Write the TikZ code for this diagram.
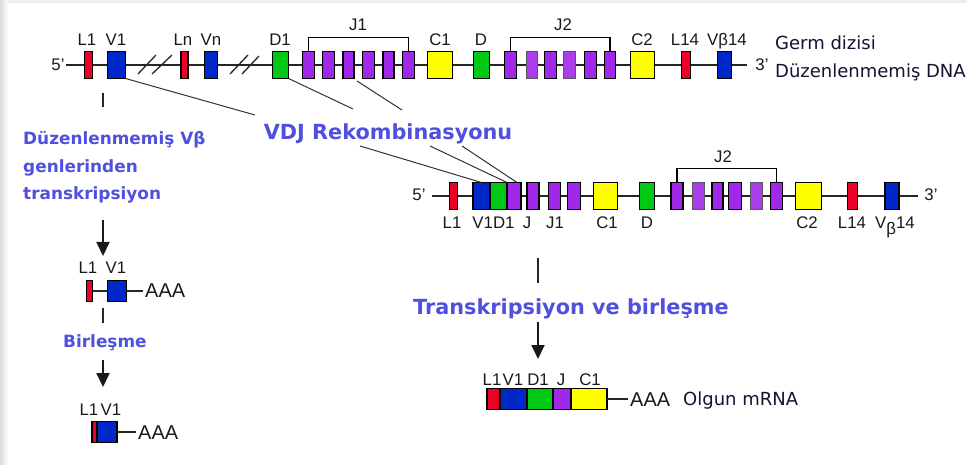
\documentclass[tikz,border=0pt]{standalone}
\usepackage{fontspec}
\setmainfont{Liberation Sans}
\newfontfamily\dvs{DejaVu Sans}
\usetikzlibrary{arrows.meta}

\definecolor{gred}{RGB}{235,0,40}
\definecolor{gblue}{RGB}{0,40,200}
\definecolor{ggreen}{RGB}{0,200,20}
\definecolor{gpurple}{RGB}{160,40,235}
\definecolor{gpurplelt}{RGB}{170,62,236}
\definecolor{gyellow}{RGB}{255,255,0}
\definecolor{stepblue}{RGB}{80,80,222}
\definecolor{navytext}{RGB}{20,20,50}

\begin{document}
\begin{tikzpicture}[x=1pt,y=-1pt,
  seg/.style={draw=black, line width=1.1pt, inner sep=0pt, outer sep=0pt, minimum height=27pt},
  segsm/.style={seg, minimum height=21pt},
  ltseg/.style={seg, draw=black!65, line width=0.8pt, fill=gpurplelt},
  dna/.style={line width=1.3pt, black!85},
  conn/.style={line width=1pt, black!80},
  tick/.style={line width=1.8pt, black!85},
  arr/.style={line width=1.8pt, black!90, -{Triangle[width=13pt,length=14pt]}},
  glab/.style={font=\fontsize{16.8}{17}\selectfont, anchor=base, inner sep=0pt, text=black!90},
  aaa/.style={font=\fontsize{20}{20}\selectfont, anchor=base west, inner sep=0pt, text=black!90},
  steptext/.style={font=\dvs\bfseries\fontsize{20.8}{22}\selectfont, text=stepblue, inner sep=0pt},
  sidetext/.style={font=\dvs\bfseries\fontsize{16.9}{18}\selectfont, text=stepblue, inner sep=0pt, anchor=base west},
  note/.style={font=\dvs\fontsize{18}{20}\selectfont, text=navytext, inner sep=0pt, anchor=base west}
]
% page frame
\useasboundingbox (0,0) rectangle (967,465);
\fill[white] (0,0) rectangle (967,465);
\shade[left color=black!14, right color=white] (0,0) rectangle (8,465);
\fill[black!7] (8,0) rectangle (967,3);

% ---------------- germline DNA ----------------
\node[glab] (g5) at (58,70.5) {5'};
\node[glab] (g3) at (762,70.5) {3'};
\coordinate (gs) at (66,65);
\coordinate (ge) at (747,65);
\draw[dna] (gs) -- (ge);
% breaks in the line
\draw[dna] (138,74) -- (156,55);
\draw[dna] (152,74) -- (172,55);
\draw[dna] (230,74) -- (248,55);
\draw[dna] (242,74) -- (259,56);

\node[seg, fill=gred,    minimum width=8pt]  (l1)  at (88.5,65) {};
\node[seg, fill=gblue,   minimum width=18pt] (v1)  at (116.5,65) {};
\node[seg, fill=gred,    minimum width=7pt]  (ln)  at (184.5,65) {};
\node[seg, fill=gblue,   minimum width=13pt] (vn)  at (211,65) {};
\node[seg, fill=ggreen,  minimum width=16pt] (d1)  at (280.5,65) {};
\node[seg, fill=gpurple, minimum width=12pt] (ja)  at (308.5,65) {};
\node[seg, fill=gpurple, minimum width=12pt] (jb)  at (328.5,65) {};
\node[seg, fill=gpurple, minimum width=11pt] (jc)  at (348.5,65) {};
\node[seg, fill=gpurple, minimum width=12pt] (jd)  at (368.5,65) {};
\node[seg, fill=gpurple, minimum width=11pt] (je)  at (388.5,65) {};
\node[seg, fill=gpurple, minimum width=12pt] (jf)  at (408.5,65) {};
\node[seg, fill=gyellow, minimum width=25pt] (c1)  at (440,65) {};
\node[seg, fill=ggreen,  minimum width=16pt] (dd)  at (481.5,65) {};
\node[seg, fill=gpurple, minimum width=12pt] (ka)  at (510.5,65) {};
\node[ltseg,             minimum width=11pt] (kb)  at (531.5,65) {};
\node[seg, fill=gpurple, minimum width=12pt] (kc)  at (550.5,65) {};
\node[ltseg,             minimum width=12pt] (kd)  at (569.5,65) {};
\node[seg, fill=gpurple, minimum width=12pt] (ke)  at (590.5,65) {};
\node[seg, fill=gpurple, minimum width=11pt] (kf)  at (610,65) {};
\node[seg, fill=gyellow, minimum width=24pt] (c2)  at (642.5,65) {};
\node[seg, fill=gred,    minimum width=9pt]  (l14) at (686,65) {};
\node[seg, fill=gblue,   minimum width=14pt] (vb14) at (724.5,65) {};

\node[glab] (tl1) at (87,45.5) {L1};
\node[glab] (tv1) at (116,45.5) {V1};
\node[glab] (tln) at (183,45.5) {Ln};
\node[glab] (tvn) at (211,45.5) {Vn};
\node[glab] (td1) at (280,45.5) {D1};
\node[glab] (tc1) at (440,45.5) {C1};
\node[glab] (tdd) at (481,45.5) {D};
\node[glab] (tc2) at (642,45.5) {C2};
\node[glab] (tl14) at (685,45.5) {L14};
\node[glab] (tvb14) at (727,45.5) {Vβ14};
\node[glab] (tj1) at (358,31) {J1};
\node[glab] (tj2) at (563,31) {J2};
\draw[line width=1.1pt] (ja.north) -- ++(0,-14) -| (jf.north);
\draw[line width=1.1pt] (ka.north) -- ++(0,-14) -| (kf.north);

\node[note] (germ) at (775,50) {Germ dizisi};
\node[note] (unre) at (775,78) {Düzenlenmemiş DNA};

% ---------------- recombination ----------------
\node[steptext, anchor=base] (vdj) at (388,140) {VDJ Rekombinasyonu};
\coordinate (ra) at (255,115);
\coordinate (rb) at (353,109);
\coordinate (rcs) at (357,81);
\coordinate (rc) at (402,110);
\coordinate (sa) at (360,146);
\coordinate (sb) at (430,146);
\coordinate (sc) at (462,146);

% ---------------- rearranged DNA ----------------
\node[glab] (m5) at (419,201) {5'};
\node[glab] (m3) at (931,201) {3'};
\coordinate (ms) at (432,196);
\coordinate (me) at (918,196);
\draw[dna] (ms) -- (me);

\node[seg, fill=gred,    minimum width=8pt]  (ml1)  at (453.5,196) {};
\node[seg, fill=gblue,   minimum width=17pt] (mv1)  at (481.5,196) {};
\node[seg, fill=ggreen,  minimum width=17pt] (md1)  at (498.5,196) {};
\node[seg, fill=gpurple, minimum width=14pt] (mj)   at (514,196) {};
\node[seg, fill=gpurple, minimum width=12pt] (mja)  at (533,196) {};
\node[seg, fill=gpurple, minimum width=12pt] (mjb)  at (554.5,196) {};
\node[seg, fill=gpurple, minimum width=13pt] (mjc)  at (574,196) {};
\node[seg, fill=gyellow, minimum width=24pt] (mc1)  at (605.5,196) {};
\node[seg, fill=ggreen,  minimum width=15pt] (mdd)  at (647,196) {};
\node[seg, fill=gpurple, minimum width=12pt] (mka)  at (677,196) {};
\node[ltseg,             minimum width=12pt] (mkb)  at (698.5,196) {};
\node[seg, fill=gpurple, minimum width=11pt] (mkc)  at (717.5,196) {};
\node[seg, fill=gpurple, minimum width=13pt] (mkd)  at (735,196) {};
\node[ltseg,             minimum width=12pt] (mke)  at (756.5,196) {};
\node[seg, fill=gpurple, minimum width=12pt] (mkf)  at (776.5,196) {};
\node[seg, fill=gyellow, minimum width=26pt] (mc2)  at (808.5,196) {};
\node[seg, fill=gred,    minimum width=10pt] (ml14) at (852.5,196) {};
\node[seg, fill=gblue,   minimum width=14pt] (mvb14) at (892,196) {};

\node[glab] (nl1) at (452,229) {L1};
\node[glab] (nvd) at (493.5,229) {V1D1};
\node[glab] (nj) at (527,229) {J};
\node[glab] (nj1) at (555,229) {J1};
\node[glab] (nc1) at (607,229) {C1};
\node[glab] (ndd) at (647,229) {D};
\node[glab] (nc2) at (807,229) {C2};
\node[glab] (nl14) at (852,229) {L14};
\node[glab] (nvb14) at (895,229) {V\raisebox{-6pt}{β}14};
\node[glab] (nj2) at (723,163) {J2};
\draw[line width=1.1pt] (mka.north) -- ++(0,-14) -| (mkf.north);

% recombination connectors
\draw[conn] (v1.south east) -- (ra);
\draw[conn] (d1.south east) -- (rb);
\draw[conn] (rcs) -- (rc);
\draw[conn] (sa) -- (mv1.north);
\draw[conn] (sb) -- (md1.north east);
\draw[conn] (sc) -- ([xshift=3pt]mj.north);

% ---------------- unrearranged V transcript ----------------
\coordinate (k1a) at (103,93);
\coordinate (k1b) at (103,107);
\draw[tick] (k1a) -- (k1b);
\node[sidetext] (st1) at (23,145) {Düzenlenmemiş Vβ};
\node[sidetext] (st2) at (23,173) {genlerinden};
\node[sidetext] (st3) at (23,200) {transkripsiyon};
\coordinate (a1s) at (103,220);
\coordinate (a1e) at (103,256);
\draw[arr] (a1s) -- (a1e);

\node[glab] (pl1) at (88,273) {L1};
\node[glab] (pv1) at (116,273) {V1};
\node[segsm, fill=gred,  minimum width=6pt]  (sl1) at (89.5,291) {};
\node[segsm, fill=gblue, minimum width=19pt] (sv1) at (117,291) {};
\coordinate (sp) at (143,291);
\draw[dna] (sl1.east) -- (sv1.west);
\draw[dna] (sv1.east) -- (sp);
\node[aaa] (paaa) at (145,298) {AAA};

\coordinate (k2a) at (103,308);
\coordinate (k2b) at (103,323);
\draw[tick] (k2a) -- (k2b);
\node[sidetext] (birl) at (63,347) {Birleşme};
\coordinate (a2s) at (103,360);
\coordinate (a2e) at (103,387);
\draw[arr] (a2s) -- (a2e);

\node[glab] (ql1) at (89,415) {L1};
\node[glab] (qv1) at (111,415) {V1};
\node[segsm, fill=gred,  minimum width=5pt]  (s2l) at (94.5,432) {};
\node[segsm, fill=gblue, minimum width=20pt] (s2v) at (107,432) {};
\coordinate (sq) at (136,432);
\draw[dna] (s2v.east) -- (sq);
\node[aaa] (qaaa) at (138,439) {AAA};

% ---------------- mature mRNA ----------------
\coordinate (k3a) at (538,258);
\coordinate (k3b) at (538,283);
\draw[tick] (k3a) -- (k3b);
\node[steptext, anchor=base west] (trb) at (413,315) {Transkripsiyon ve birleşme};
\coordinate (a3s) at (538,322);
\coordinate (a3e) at (538,359);
\draw[arr] (a3s) -- (a3e);

\node[segsm, fill=gred,    minimum width=13pt] (ol1) at (493.5,399) {};
\node[segsm, fill=gblue,   minimum width=27pt] (ov1) at (513.5,399) {};
\node[segsm, fill=ggreen,  minimum width=26pt] (od1) at (540,399) {};
\node[segsm, fill=gpurple, minimum width=18pt] (oj)  at (562,399) {};
\node[segsm, fill=gyellow, minimum width=36pt] (oc1) at (589,399) {};
\coordinate (op) at (628,399);
\draw[dna] (oc1.east) -- (op);
\node[aaa] (oaaa) at (630,406) {AAA};
\node[note] (olg) at (683,405) {Olgun mRNA};

\node[glab] (rl1) at (492,385) {L1};
\node[glab] (rv1) at (513,385) {V1};
\node[glab] (rd1) at (538,385) {D1};
\node[glab] (rj)  at (561,385) {J};
\node[glab] (rc1) at (590,385) {C1};
\end{tikzpicture}
\end{document}
